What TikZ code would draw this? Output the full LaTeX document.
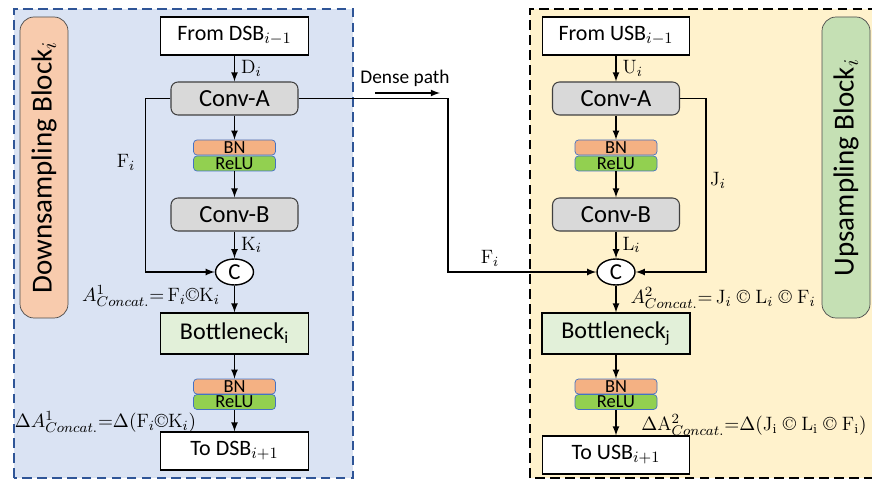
\documentclass[tikz,border=0pt]{standalone}
\usepackage{fontspec}
\usepackage{amsmath}
\usetikzlibrary{shapes.geometric}
\newfontfamily\calibri{Carlito}

\definecolor{panelblue}{HTML}{DAE3F3}
\definecolor{paneledge}{HTML}{2F5597}
\definecolor{panelyellow}{HTML}{FFF2CC}
\definecolor{tagorange}{HTML}{F8CBAD}
\definecolor{taggreen}{HTML}{C5E0B4}
\definecolor{convgray}{HTML}{D9D9D9}
\definecolor{bnorange}{HTML}{F4B183}
\definecolor{relugreen}{HTML}{92D050}
\definecolor{bnedge}{HTML}{4472C4}
\definecolor{bneckgreen}{HTML}{E2F0D9}

\tikzset{
  iobox/.style={draw, semithick, fill=white, minimum width=2.95cm, minimum height=0.76cm,
    font=\calibri\fontsize{12.5}{14}\selectfont},
  conv/.style={draw=black!75, semithick, fill=convgray, rounded corners=4pt,
    minimum width=2.54cm, minimum height=0.66cm, font=\calibri\fontsize{14}{16}\selectfont},
  bn/.style={draw=bnedge, fill=bnorange, rounded corners=2pt, inner sep=0pt,
    minimum width=1.64cm, minimum height=0.30cm, font=\calibri\fontsize{10.5}{11}\selectfont},
  relu/.style={bn, fill=relugreen},
  bneck/.style={draw, semithick, fill=bneckgreen, minimum width=2.96cm, minimum height=0.82cm,
    font=\calibri\fontsize{13.7}{16}\selectfont},
  cat/.style={draw, thick, ellipse, fill=white, inner sep=0pt, minimum width=0.76cm,
    minimum height=0.52cm, font=\calibri\fontsize{13}{14}\selectfont},
  tag/.style={draw=black!70, rotate=90, rounded corners=8pt, minimum width=6.02cm,
    minimum height=0.96cm, font=\calibri\fontsize{16.5}{18}\selectfont},
  lbl/.style={font=\fontsize{11}{13}\selectfont},
  panel/.style={line width=0.85pt, dash pattern=on 5.5pt off 3pt}
}

\begin{document}
\begin{tikzpicture}[>=latex]
            \clip (0,0) rectangle (17.44,9.58);

            % the two blocks
            \draw[panel, draw=paneledge, fill=panelblue] (0.28,0.02) rectangle (7.06,9.40);
            \draw[panel, fill=panelyellow] (10.60,0.02) rectangle (17.80,9.40);
            \node[tag, fill=tagorange] (down) at (0.88,6.23) {Downsampling Block$_i$};
            \node[tag, fill=taggreen] (up) at (16.92,6.23) {Upsampling Block$_i$};

            % downsampling column
            \node[iobox] (fromD) at (4.69,8.86) {From DSB$_{i-1}$};
            \node[conv] (convA1) at (4.69,7.61) {Conv-A};
            \node[bn] (bn1) at (4.69,6.63) {BN};
            \node[relu] (relu1) at (4.69,6.31) {ReLU};
            \node[conv] (convB1) at (4.69,5.29) {Conv-B};
            \node[cat] (cat1) at (4.69,4.14) {C};
            \node[bneck] (bneck1) at (4.69,2.91) {Bottleneck\textsubscript{i}};
            \node[bn] (bn2) at (4.69,1.85) {BN};
            \node[relu] (relu2) at (4.69,1.54) {ReLU};
            \node[iobox] (toD) at (4.69,0.56) {To DSB$_{i+1}$};

            % upsampling column
            \node[iobox] (fromU) at (12.32,8.86) {From USB$_{i-1}$};
            \node[conv] (convA2) at (12.32,7.61) {Conv-A};
            \node[bn] (bn3) at (12.32,6.63) {BN};
            \node[relu] (relu3) at (12.32,6.31) {ReLU};
            \node[conv] (convB2) at (12.32,5.29) {Conv-B};
            \node[cat] (cat2) at (12.32,4.14) {C};
            \node[bneck] (bneck2) at (12.32,2.91) {Bottleneck\textsubscript{j}};
            \node[bn] (bn4) at (12.32,1.85) {BN};
            \node[relu] (relu4) at (12.32,1.54) {ReLU};
            \node[iobox] (toU) at (12.32,0.48) {To USB$_{i+1}$};

            % main flow
            \draw[thick,->] (fromD) -- node[right, lbl] {$\mathrm{D}_i$} (convA1);
            \draw[thick,->] (convA1) -- (bn1);
            \draw[thick,->] (relu1) -- (convB1);
            \draw[thick,->] (convB1) -- node[right, lbl] {$\mathrm{K}_i$} (cat1);
            \draw[thick,->] (cat1) -- (bneck1);
            \draw[thick,->] (bneck1) -- (bn2);
            \draw[thick,->] (relu2) -- (toD);

            \draw[thick,->] (fromU) -- node[right, lbl] {$\mathrm{U}_i$} (convA2);
            \draw[thick,->] (convA2) -- (bn3);
            \draw[thick,->] (relu3) -- (convB2);
            \draw[thick,->] (convB2) -- node[right, lbl] {$\mathrm{L}_i$} (cat2);
            \draw[thick,->] (cat2) -- (bneck2);
            \draw[thick,->] (bneck2) -- (bn4);
            \draw[thick,->] (relu4) -- (toU);

            % skip links into the concatenations
            \draw[thick,->] (convA1.west) -- ++(-0.50,0) |- (cat1.west);
            \draw[thick,->] (convA2.east) -- ++(0.52,0) |- (cat2.east);
            \coordinate (dense) at (8.96,7.61);
            \draw[thick,->] (convA1.east) -- (dense) |- (cat2.west);
            \node[lbl] (fleft) at (2.52,6.34) {$\mathrm{F}_i$};
            \node[lbl] (fright) at (9.80,4.42) {$\mathrm{F}_i$};
            \node[lbl] (jlab) at (14.36,5.98) {$\mathrm{J}_i$};

            \node[font=\calibri\fontsize{11}{13}\selectfont] (densetxt) at (8.10,8.02) {Dense path};
            \coordinate (dstart) at (7.50,7.72);
            \coordinate (dend) at (8.80,7.72);
            \draw[thick,->] (dstart) -- (dend);

            % concatenation formulas
            \node[lbl] (eq1) at (3.02,3.66) {$A^1_{Concat.}{=}\,\mathrm{F}_i\text{\textcopyright}\mathrm{K}_i$};
            \node[lbl] (deq1) at (2.11,1.14) {$\Delta A^1_{Concat.}{=}\Delta(\mathrm{F}_i\text{\textcopyright}\mathrm{K}_i)$};
            \node[lbl] (eq2) at (14.46,3.62) {$A^2_{Concat.}{=}\,\mathrm{J}_i\;\text{\textcopyright}\;\mathrm{L}_i\;\text{\textcopyright}\;\mathrm{F}_i$};
            \node[lbl] (deq2) at (15.08,1.08) {$\Delta\mathrm{A}^2_{Concat.}{=}\Delta(\mathrm{J_i}\;\text{\textcopyright}\;\mathrm{L_i}\;\text{\textcopyright}\;\mathrm{F_i})$};
        \end{tikzpicture}
\end{document}
